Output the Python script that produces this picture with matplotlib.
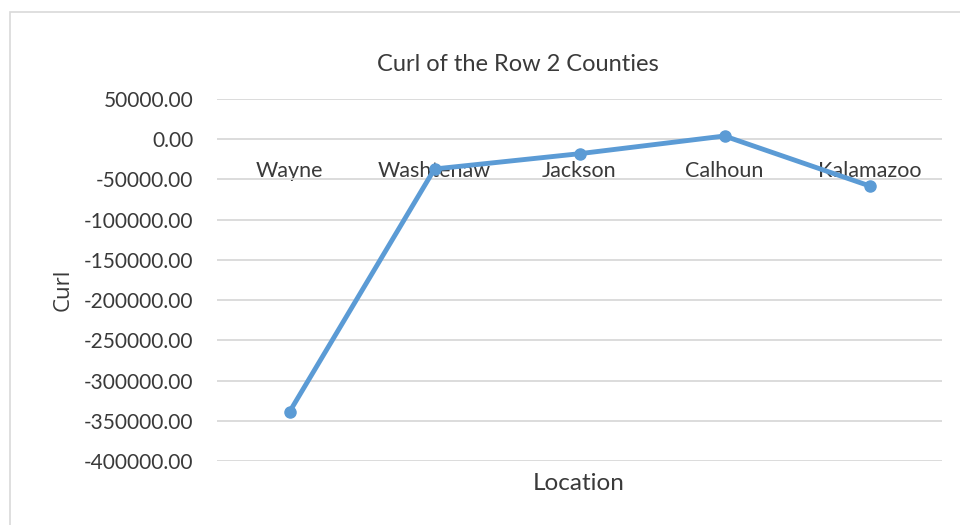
import numpy as np
import matplotlib
matplotlib.use("Agg")
import matplotlib.pyplot as plt
from matplotlib.ticker import FuncFormatter, MultipleLocator
from matplotlib.patches import Rectangle

counties = ["Wayne", "Washtenaw", "Jackson", "Calhoun", "Kalamazoo"]
curl = [-339000, -37000, -18000, 4000, -58000]

plt.rcParams['font.family'] = ['Lato', 'DejaVu Sans']
text_col = "#3a3a3a"

fig = plt.figure(figsize=(9.6, 5.25), dpi=100)
ax = fig.add_axes([217 / 960, 1 - 461 / 525, 725 / 960, 362 / 525])

# chart area frame
fig.patches.append(Rectangle((10 / 960, -0.01), 960, 1 - 12 / 525 + 0.01,
                             transform=fig.transFigure, fill=False,
                             edgecolor="#d9d9d9", linewidth=1.2))

x = np.arange(len(counties))
ax.plot(x, curl, color="#5b9bd5", linewidth=3.5, marker="o", markersize=8,
        solid_capstyle="round", zorder=3)

ax.set_xlim(-0.5, len(counties) - 0.5)
ax.set_ylim(-400000, 50000)
ax.yaxis.set_major_locator(MultipleLocator(50000))
ax.yaxis.set_major_formatter(FuncFormatter(lambda v, p: "%.2f" % v))
ax.grid(axis="y", color="#d9d9d9", linewidth=1.3)
ax.set_axisbelow(True)

for s in ["left", "right", "top"]:
    ax.spines[s].set_visible(False)
# category labels sit next to the zero line
ax.spines["bottom"].set_position(("data", 0))
ax.spines["bottom"].set_visible(False)
ax.set_xticks(x)
ax.set_xticklabels(counties)
ax.tick_params(axis="x", length=0, pad=15.5, labelsize=15.5, labelcolor=text_col)
ax.tick_params(axis="y", length=0, pad=17, labelsize=15, labelcolor=text_col)

fig.text(518 / 960, 1 - 64 / 525, "Curl of the Row 2 Counties", ha="center",
         va="center", fontsize=17, color=text_col)
fig.text(579 / 960, 1 - 483 / 525, "Location", ha="center", va="center",
         fontsize=17.5, color=text_col)
fig.text(63 / 960, 1 - 290 / 525, "Curl", ha="center", va="center",
         rotation=90, fontsize=16, color=text_col,
         family=["Open Sans", "DejaVu Sans"])

fig.savefig("out.png", dpi=100)
